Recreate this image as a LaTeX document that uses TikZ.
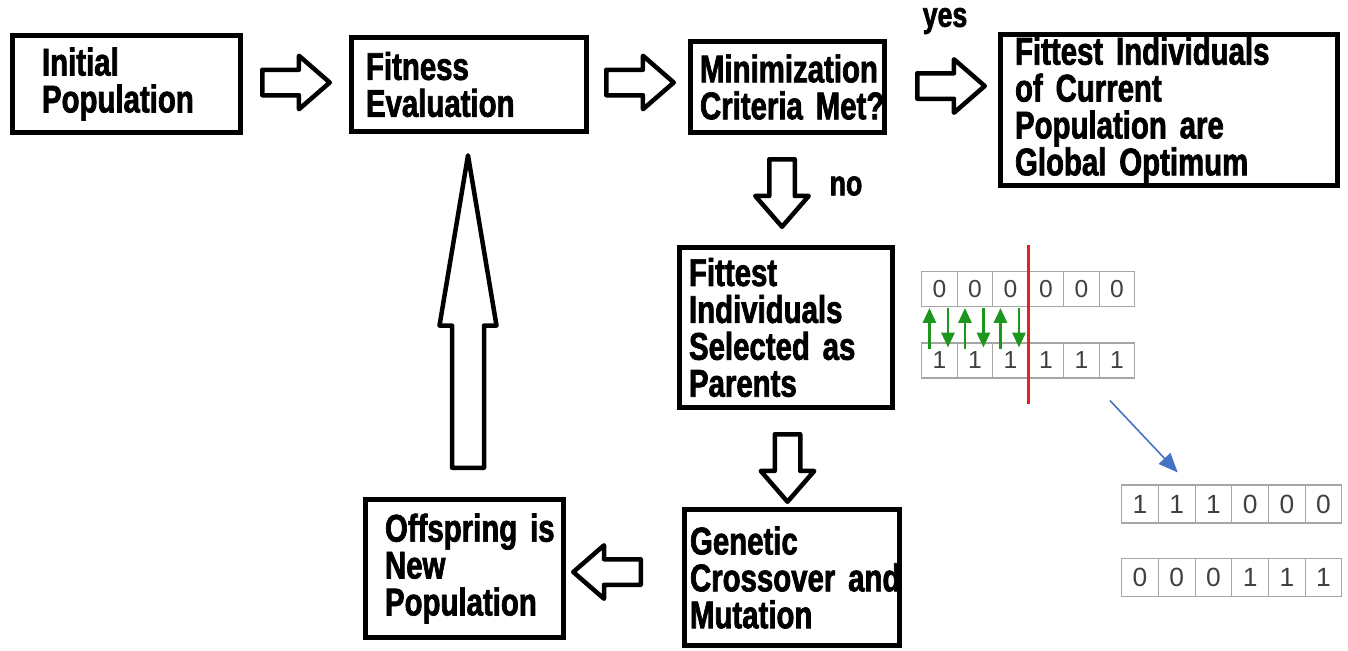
\documentclass[tikz,border=0pt]{standalone}
\usepackage{fontspec}
\usetikzlibrary{shapes.arrows,arrows.meta,calc}
\newfontfamily\boxfont{Liberation Sans}[FakeStretch=0.76,BoldFeatures={FakeBold=1.8}]
\newfontfamily\bitfont{Liberation Sans}
\newcommand\stagefont{\boxfont\bfseries\fontsize{22}{21}\selectfont\fontdimen2\font=4.6pt\relax}
\definecolor{genegreen}{RGB}{30,150,30}
\definecolor{cutred}{RGB}{235,30,35}
\definecolor{childblue}{RGB}{68,114,196}

\begin{document}
\begin{tikzpicture}[x=0.02cm,y=-0.02cm]

        \useasboundingbox (0,0) rectangle (1348,650);

        \begin{scope}[every node/.style={draw, line width=0.1cm, align=left, inner ysep=0pt,
            font=\stagefont}]
          \node[minimum width=4.56cm, minimum height=1.94cm, inner xsep=0.59cm, text width=3.38cm] (init) at (126.5,84) {Initial\\Population};
          \node[minimum width=4.70cm, minimum height=1.88cm, inner xsep=0.29cm, text width=4.12cm] (fit)  at (469,84.5)  {Fitness\\Evaluation};
          \node[minimum width=3.88cm, minimum height=1.82cm, inner xsep=0.19cm, text width=3.50cm] (crit) at (787.5,87)  {Minimization\\Criteria~Met?};
          \node[minimum width=6.74cm, minimum height=3.02cm, inner xsep=0.29cm, text width=6.16cm] (opt)  at (1169,110)  {Fittest~Individuals\\of~Current\\Population~are\\Global~Optimum};
          \node[minimum width=4.26cm, minimum height=3.20cm, inner xsep=0.19cm, text width=3.88cm] (sel)  at (786,327.5) {Fittest\\Individuals\\Selected~as\\Parents};
          \node[minimum width=4.30cm, minimum height=2.72cm, inner xsep=0.11cm, text width=4.08cm] (gen)  at (792,577.5) {Genetic\\Crossover~and\\Mutation};
          \node[minimum width=3.96cm, minimum height=2.76cm, inner xsep=0.39cm, text width=3.18cm] (off)  at (464.5,568.5) {Offspring~is\\New\\Population};
        \end{scope}

        \begin{scope}[every node/.style={single arrow, draw, line width=0.09cm, line join=round,
            inner sep=0.21cm, single arrow head extend=0.28cm, minimum width=0pt,
            minimum height=1.35cm, single arrow tip angle=82, anchor=tail}]
          \node (go1) at (260,82.5) {};
          \node (go2) at (604,82.5) {};
          \node (go3) at (915,86)   {};
          \node[shape border rotate=270] (go4) at (782,157)   {};
          \node[shape border rotate=270] (go5) at (787.5,432) {};
          \node[shape border rotate=180] (go6) at (643,572)   {};
          \node[shape border rotate=90, minimum height=6.25cm, inner sep=0.275cm,
            single arrow head extend=0.25cm, single arrow tip angle=19] (back) at (468,470) {};
        \end{scope}

        \begin{scope}[every node/.style={font=\boxfont\bfseries\fontsize{20}{20}\selectfont}]
          \node (yes) at (945,21) {yes};
          \node (no)  at (846,186) {no};
        \end{scope}

        \begin{scope}[every node/.style={draw=gray!70, line width=0.6pt, inner sep=0pt,
            minimum width=0.71cm, minimum height=0.70cm, text=black!75,
            font=\bitfont\fontsize{14}{14}\selectfont}]
          \foreach \b [count=\i] in {0,0,0,0,0,0}
            \node (a\i) at ({921.7+35.5*(\i-0.5)},289) {\b};
          \foreach \b [count=\i] in {1,1,1,1,1,1}
            \node (b\i) at ({921.7+35.5*(\i-0.5)},360.5) {\b};
        \end{scope}

        \begin{scope}[every node/.style={draw=gray!70, line width=0.6pt, inner sep=0pt,
            minimum width=0.734cm, minimum height=0.76cm, text=black!75,
            font=\bitfont\fontsize{15}{15}\selectfont}]
          \foreach \b [count=\i] in {1,1,1,0,0,0}
            \node (c\i) at ({1121.7+36.7*(\i-0.5)},504) {\b};
          \foreach \b [count=\i] in {0,0,0,1,1,1}
            \node (d\i) at ({1121.7+36.7*(\i-0.5)},577.5) {\b};
        \end{scope}

        \begin{scope}[genegreen, line width=1.4pt, -{Triangle[length=8.5pt,width=7.5pt]}]
          \foreach \i in {1,2,3} {
            \draw ($(b\i.north)+(-10,7)$) -- ($(a\i.south)+(-10,1)$);
            \draw ($(a\i.south)+(8.5,1)$) -- ($(b\i.north)+(8.5,5)$);
          }
        \end{scope}

        \coordinate (cuttop) at ($(a3.north east)+(0,-26)$);
        \coordinate (cutbot) at ($(b3.south east)+(0,25)$);
        \draw[cutred, line width=1.7pt] (cuttop) -- (cutbot);

        \draw[childblue, line width=0.9pt, -{Triangle[length=11pt,width=9pt]}]
          ($(b6.south)+(-7,22)$) -- ($(c2.north)+(1,-12)$);

      \end{tikzpicture}
\end{document}
